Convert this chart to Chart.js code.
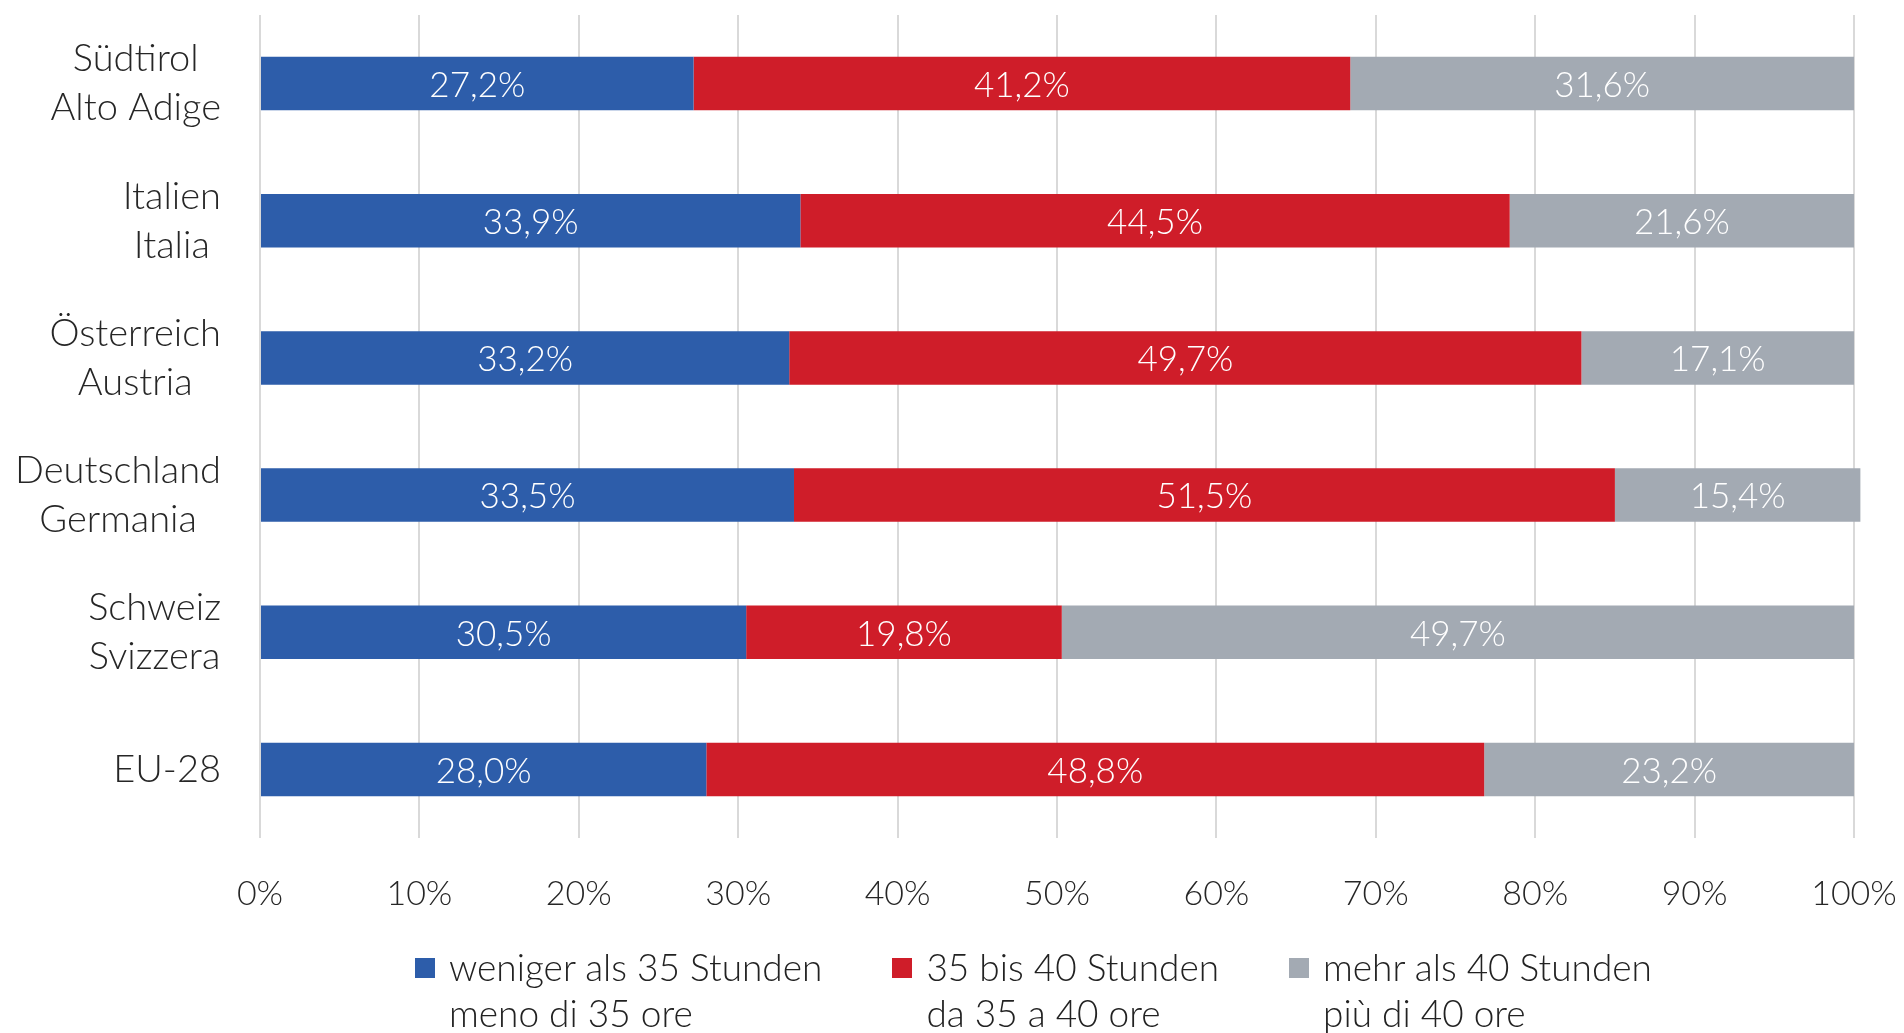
<!DOCTYPE html>
<html>
<head>
<meta charset="utf-8">
<script src="https://cdn.jsdelivr.net/npm/chart.js@4"></script>
<style>
  html, body { margin: 0; padding: 0; background: #fff; }
  #wrap { position: relative; width: 1904px; height: 1033px; }
  #legend {
    position: absolute; left: 415px; top: 944px;
    display: flex; gap: 70px;
    font-family: Lato, "Open Sans", sans-serif; font-weight: 300;
    font-size: 37px; line-height: 46px; color: #222;
  }
  .item { display: flex; align-items: flex-start; }
  .box { width: 20px; height: 20px; margin: 14px 14px 0 0; flex: none; }
</style>
</head>
<body>
<div id="wrap">
  <canvas id="chart" width="1904" height="1033"></canvas>
  <div id="legend"></div>
</div>
<script>
document.addEventListener("DOMContentLoaded", () => {
  // categories (two-line labels, German / Italian)
  const regions = [
    ["Südtirol", "Alto Adige"],
    ["Italien", "Italia"],
    ["Österreich", "Austria"],
    ["Deutschland", "Germania"],
    ["Schweiz", "Svizzera"],
    ["EU-28"]
  ];

  // series values (%)
  const under35 = [27.2, 33.9, 33.2, 33.5, 30.5, 28.0];
  const from35to40 = [41.2, 44.5, 49.7, 51.5, 19.8, 48.8];
  const over40 = [31.6, 21.6, 17.1, 15.4, 49.7, 23.2];

  const seriesNames = [
    ["weniger als 35 Stunden", "meno di 35 ore"],
    ["35 bis 40 Stunden", "da 35 a 40 ore"],
    ["mehr als 40 Stunden", "più di 40 ore"]
  ];
  const colors = ["#2D5DAA", "#CF1D29", "#A3AAB3"];

  const fontFamily = "Lato, 'Open Sans', sans-serif";

  // draw the value labels in the middle of each segment
  const valueLabels = {
    id: "valueLabels",
    afterDatasetsDraw(chart) {
      const ctx = chart.ctx;
      ctx.save();
      ctx.font = "300 35px " + fontFamily;
      ctx.fillStyle = "#ffffff";
      ctx.textAlign = "center";
      ctx.textBaseline = "middle";
      chart.data.datasets.forEach((ds, i) => {
        const meta = chart.getDatasetMeta(i);
        meta.data.forEach((bar, j) => {
          const v = ds.data[j];
          const x = (bar.x + bar.base) / 2;
          ctx.fillText(v.toFixed(1).replace(".", ",") + "%", x, bar.y + 2);
        });
      });
      ctx.restore();
    }
  };

  // category labels: block right aligned to the axis, lines centred in the block
  const categoryLabels = {
    id: "categoryLabels",
    afterDraw(chart) {
      const ctx = chart.ctx;
      const yScale = chart.scales.y;
      const right = chart.chartArea.left - 39;
      const lineH = 49;
      ctx.save();
      ctx.font = "300 38px " + fontFamily;
      ctx.fillStyle = "#262626";
      ctx.textAlign = "center";
      ctx.textBaseline = "middle";
      chart.data.labels.forEach((lines, i) => {
        const y = yScale.getPixelForValue(i);
        const w = Math.max(...lines.map(l => ctx.measureText(l).width));
        const cx = right - w / 2;
        const top = y - (lines.length - 1) * lineH / 2;
        lines.forEach((l, k) => ctx.fillText(l, cx, top + k * lineH));
      });
      ctx.restore();
    }
  };

  const datasets = [under35, from35to40, over40].map((data, i) => ({
    label: seriesNames[i].join(" "),
    data: data,
    backgroundColor: colors[i],
    borderWidth: 0,
    categoryPercentage: 1,
    barPercentage: 0.39,
    clip: false
  }));

  new Chart(document.getElementById("chart"), {
    type: "bar",
    data: { labels: regions, datasets: datasets },
    options: {
      indexAxis: "y",
      responsive: false,
      animation: false,
      layout: { padding: { top: 15, right: 50, left: 0, bottom: 115 } },
      plugins: {
        legend: { display: false },
        tooltip: { enabled: false }
      },
      scales: {
        x: {
          stacked: true,
          min: 0,
          max: 100,
          ticks: {
            stepSize: 10,
            padding: 36,
            color: "#262626",
            font: { family: fontFamily, size: 34, weight: 300 },
            callback: v => v + "%"
          },
          grid: { color: "#D9D9D9", lineWidth: 2, drawTicks: false },
          border: { display: false },
          afterFit: s => {
            s.height = 80;
            s.paddingLeft = 0;
            s.paddingRight = 0;
          }
        },
        y: {
          stacked: true,
          ticks: { display: false },
          grid: { display: false, drawTicks: false },
          border: { display: false },
          afterFit: s => {
            s.width = 260;
            s.paddingTop = 0;
            s.paddingBottom = 0;
          }
        }
      }
    },
    plugins: [valueLabels, categoryLabels]
  });

  // legend
  const legend = document.getElementById("legend");
  legend.innerHTML = seriesNames.map((lines, i) => `
    <div class="item">
      <div class="box" style="background:${colors[i]}"></div>
      <div>${lines.join("<br>")}</div>
    </div>
  `).join("");
});
</script>
</body>
</html>
